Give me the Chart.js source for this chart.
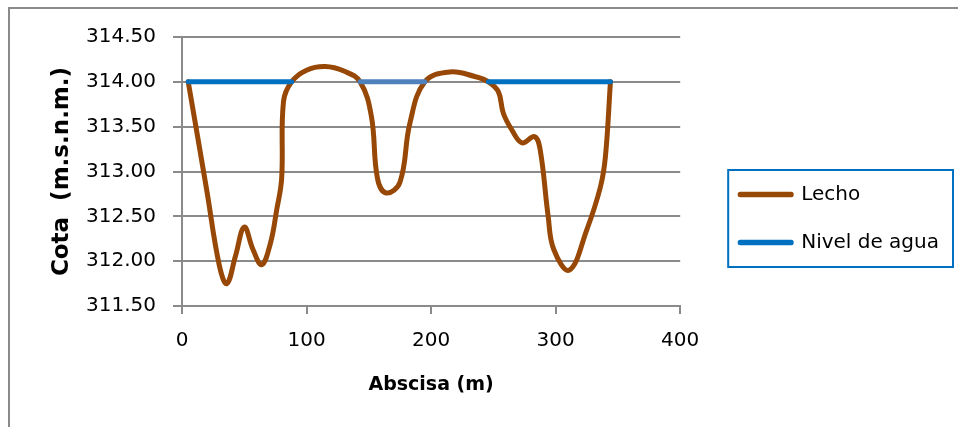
<!DOCTYPE html>
<html>
<head>
<meta charset="utf-8">
<script src="https://cdn.jsdelivr.net/npm/chart.js@4.4.1/dist/chart.umd.min.js"></script>
<style>
  html, body { margin: 0; padding: 0; background: #fff; }
  canvas { display: block; }
</style>
</head>
<body>
<canvas id="perfil" width="958" height="427"></canvas>
<script>
// Perfil transversal: cota del lecho y nivel de agua
var abscisaLecho = [5, 20, 30, 36, 43, 50, 57, 64, 71, 76, 80, 81.5, 88, 100, 115, 130, 143, 152, 157, 164,
                    175, 183, 195, 215, 235, 246, 254, 258, 265, 273, 283, 287.5, 294, 298.5, 311, 325, 336, 340, 344];
var cotaLecho = [314.00, 312.78, 311.95, 311.75, 312.06, 312.38, 312.13, 311.96, 312.20, 312.57, 312.92, 313.78, 314.00, 314.13, 314.17, 314.12, 314.00, 313.62, 312.92, 312.76,
                 312.88, 313.54, 314.00, 314.11, 314.06, 314.00, 313.89, 313.65, 313.46, 313.32, 313.39, 313.25, 312.50, 312.13, 311.90, 312.35, 312.83, 313.17, 314.00];

// tramos con agua (null corta la linea)
var abscisaNivel = [5, 88, 115, 143, 195, 220, 246, 344];
var cotaNivel = [314, 314, null, 314, 314, null, 314, 314];

var ticksAbscisa = [0, 100, 200, 300, 400];
var ticksCota = [311.5, 312.0, 312.5, 313.0, 313.5, 314.0, 314.5];

function puntos(xs, ys) {
  return xs.map(function (x, i) { return { x: x, y: ys[i] }; });
}

var FUENTE = "'DejaVu Sans', sans-serif";
var GRIS = '#8a8a8a';

// marco exterior y recuadro de la leyenda
var marcos = {
  id: 'marcos',
  beforeDraw: function (chart) {
    var c = chart.ctx;
    c.save();
    c.strokeStyle = GRIS;
    c.lineWidth = 2;
    c.strokeRect(9, 8, chart.width + 20, chart.height + 20);
    c.restore();
  },
  afterDraw: function (chart) {
    var hb = chart.legend.legendHitBoxes;
    if (!hb || !hb.length) return;
    var l = hb[0].left - 12;
    var t = hb[0].top - 14.5;
    var r = Math.max.apply(null, hb.map(function (h) { return h.left + h.width; })) + 14;
    var b = hb[hb.length - 1].top + hb[hb.length - 1].height + 14.5;
    var c = chart.ctx;
    c.save();
    c.strokeStyle = '#0070c0';
    c.lineWidth = 2;
    c.strokeRect(l, t, r - l, b - t);
    c.restore();
  }
};

Chart.defaults.font.family = FUENTE;
Chart.defaults.color = '#000';

new Chart(document.getElementById('perfil'), {
  type: 'line',
  data: {
    datasets: [
      {
        label: 'Lecho',
        data: puntos(abscisaLecho, cotaLecho),
        borderColor: '#974806',
        borderWidth: 5,
        borderCapStyle: 'round',
        borderJoinStyle: 'round',
        tension: 0.4,
        pointRadius: 0,
        order: 1
      },
      {
        label: 'Nivel de agua',
        data: puntos(abscisaNivel, cotaNivel),
        borderColor: '#0070c0',
        borderWidth: 5,
        borderCapStyle: 'round',
        pointRadius: 0,
        spanGaps: false,
        segment: {
          borderColor: function (s) { return s.p0DataIndex === 3 ? '#4f81bd' : undefined; }
        },
        order: 0
      }
    ]
  },
  options: {
    responsive: false,
    animation: false,
    events: [],
    layout: { padding: { left: 44, top: 37, bottom: 27, right: 9 } },
    plugins: {
      tooltip: { enabled: false },
      legend: {
        position: 'right',
        maxWidth: 320,
        labels: {
          font: { size: 20 },
          color: '#000',
          boxWidth: 51,
          boxHeight: 0.5,
          padding: 28,
          generateLabels: function (chart) {
            return chart.data.datasets.map(function (ds, i) {
              return {
                text: ds.label,
                datasetIndex: i,
                fillStyle: ds.borderColor,
                strokeStyle: ds.borderColor,
                lineWidth: 5,
                lineJoin: 'round',
                lineCap: 'round',
                fontColor: '#000',
                hidden: false
              };
            });
          }
        }
      }
    },
    scales: {
      x: {
        type: 'linear',
        min: 0,
        max: 400,
        afterBuildTicks: function (s) { s.ticks = ticksAbscisa.map(function (v) { return { value: v }; }); },
        afterFit: function (s) { s.height = 94; },
        ticks: { font: { size: 20 }, padding: 15, maxRotation: 0 },
        grid: { drawOnChartArea: false, drawTicks: true, tickLength: 8, color: GRIS, lineWidth: 2 },
        border: { display: true, color: GRIS, width: 2 },
        title: { display: true, text: 'Abscisa (m)', font: { size: 19, weight: 'bold' }, padding: { top: 4, bottom: 4 } }
      },
      y: {
        min: 311.5,
        max: 314.5,
        afterBuildTicks: function (s) { s.ticks = ticksCota.map(function (v) { return { value: v }; }); },
        afterFit: function (s) { s.width = 138; },
        ticks: {
          font: { size: 20 },
          padding: 17,
          callback: function (v) { return v.toFixed(2); }
        },
        grid: { color: GRIS, lineWidth: 2, tickLength: 9 },
        border: { display: true, color: GRIS, width: 2 },
        title: { display: true, text: 'Cota  (m.s.n.m.)', font: { size: 23, weight: 'bold' }, padding: { top: 4, bottom: 4 } }
      },
      // separacion entre el area del grafico y la leyenda
      hueco: {
        type: 'linear',
        position: 'right',
        display: true,
        ticks: { display: false },
        grid: { display: false },
        border: { display: false },
        afterFit: function (s) { s.width = 32; }
      }
    }
  },
  plugins: [marcos]
});
</script>
</body>
</html>
